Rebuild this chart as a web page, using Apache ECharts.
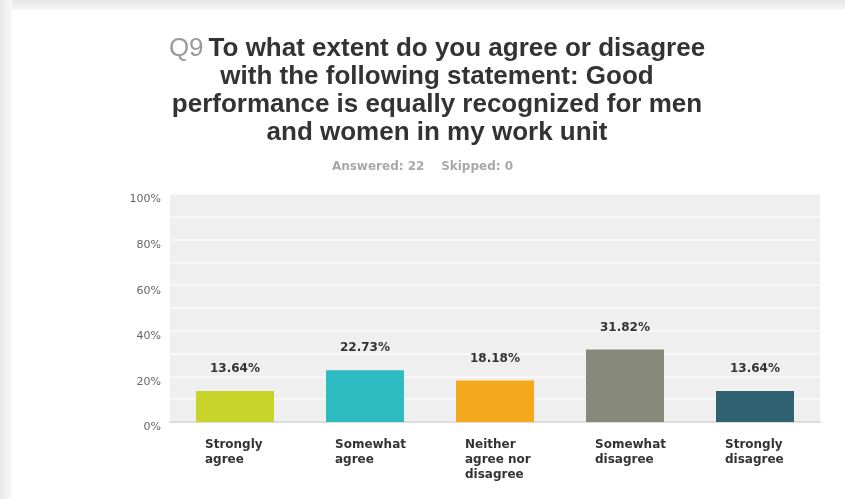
<!DOCTYPE html>
<html>
<head>
<meta charset="utf-8">
<script src="https://cdn.jsdelivr.net/npm/echarts@6/dist/echarts.min.js"></script>
<style>
html,body{margin:0;padding:0;background:#fff;}
#chart{width:845px;height:499px;}
</style>
</head>
<body>
<div id="chart"></div>
<script>
var categories = ['Strongly\nagree', 'Somewhat\nagree', 'Neither\nagree nor\ndisagree', 'Somewhat\ndisagree', 'Strongly\ndisagree'];
var values = [13.64, 22.73, 18.18, 31.82, 13.64];
var barColors = ['#c8d42a', '#2fbbc2', '#f4a91d', '#878a78', '#2e6272'];
var yTickLabels = ['0%', '20%', '40%', '60%', '80%', '100%'];
var titleLines = ['To what extent do you agree or disagree', 'with the following statement: Good', 'performance is equally recognized for men', 'and women in my work unit'];
var subtitleText = 'Answered: 22    Skipped: 0';

var chart = echarts.init(document.getElementById('chart'), null, {renderer: 'canvas'});

var titleText = '{q|Q9} {t|' + titleLines[0] + '}\n' + titleLines.slice(1).map(function (l) { return '{t|' + l + '}'; }).join('\n');

chart.setOption({
  backgroundColor: '#fff',
  graphic: [
    {type: 'rect', left: 0, top: 0, shape: {width: 845, height: 10}, style: {fill: new echarts.graphic.LinearGradient(0, 0, 0, 1, [{offset: 0, color: '#e4e4e4'}, {offset: 1, color: '#f7f7f7'}])}, z: -10},
    {type: 'rect', left: 0, top: 0, shape: {width: 12, height: 499}, style: {fill: new echarts.graphic.LinearGradient(0, 0, 1, 0, [{offset: 0, color: '#e8e8e8'}, {offset: 1, color: '#f8f8f8'}])}, z: -10}
  ],
  title: [{
    text: titleText,
    left: 432,
    top: 30,
    textAlign: 'center',
    textStyle: {
      rich: {
        q: {fontFamily: 'Liberation Sans', fontSize: 26, fontWeight: 'normal', color: '#9a9a9a', lineHeight: 28},
        t: {fontFamily: 'Liberation Sans', fontSize: 26, fontWeight: 'bold', color: '#333', lineHeight: 28}
      }
    }
  }, {
    text: subtitleText,
    left: 'center',
    top: 156,
    textStyle: {fontFamily: 'DejaVu Sans', fontSize: 12, fontWeight: 'bold', color: '#a8a8a8'}
  }],
  grid: {
    left: 170, right: 25, top: 194, bottom: 77,
    show: true, backgroundColor: '#efefef', borderWidth: 0
  },
  xAxis: {
    type: 'category',
    data: categories,
    axisLine: {show: true, lineStyle: {color: '#dcdcdc', width: 2}},
    axisTick: {show: false},
    axisLabel: {
      margin: 15,
      formatter: function (v) { return v.split('\n').map(function (l) { return '{a|' + l + '}'; }).join('\n'); },
      rich: {
        a: {fontFamily: 'DejaVu Sans', fontSize: 12, fontWeight: 'bold', color: '#333', width: 60, align: 'left', lineHeight: 15}
      }
    }
  },
  yAxis: {
    type: 'value',
    min: 0, max: 100, interval: 10,
    axisLine: {show: false},
    axisTick: {show: false},
    splitLine: {show: true, lineStyle: {color: '#fbfbfb', width: 1.5}},
    axisLabel: {
      margin: 9,
      verticalAlign: 'top',
      fontFamily: 'DejaVu Sans', fontSize: 11, color: '#666',
      formatter: function (v) { return v % 20 === 0 ? yTickLabels[v / 20] : ''; }
    }
  },
  series: [{
    type: 'bar',
    data: values.map(function (v, i) { return {value: v, itemStyle: {color: barColors[i]}}; }),
    barWidth: '60%',
    label: {
      show: true, position: 'top', distance: 16,
      fontFamily: 'DejaVu Sans', fontSize: 12, fontWeight: 'bold', color: '#333',
      formatter: function (p) { return p.value.toFixed(2) + '%'; }
    }
  }]
});
</script>
</body>
</html>
